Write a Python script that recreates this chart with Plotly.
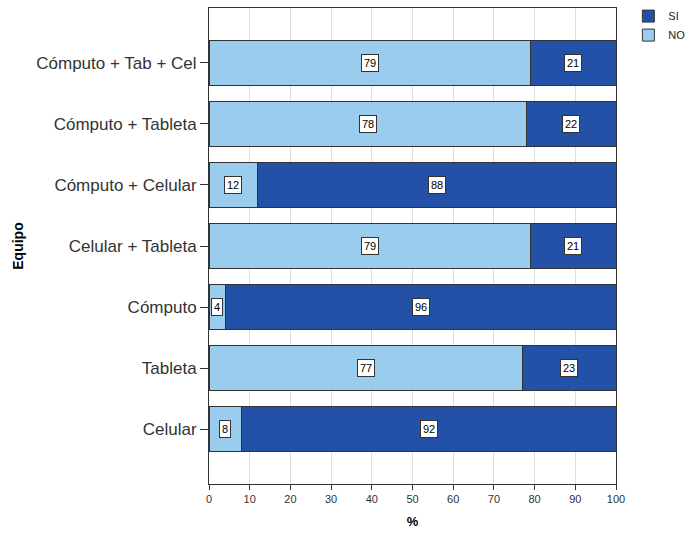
import plotly.graph_objects as go

categories = ["Cómputo + Tab + Cel", "Cómputo + Tableta", "Cómputo + Celular",
              "Celular + Tableta", "Cómputo", "Tableta", "Celular"]
no_vals = [79, 78, 12, 79, 4, 77, 8]
si_vals = [21, 22, 88, 21, 96, 23, 92]
x_ticks = [0, 10, 20, 30, 40, 50, 60, 70, 80, 90, 100]

NO_COLOR = "#9ACDED"
SI_COLOR = "#2451A8"
FONT = "Liberation Sans, Arial, sans-serif"

fig = go.Figure()
fig.add_trace(go.Bar(y=categories, x=no_vals, orientation="h", name="NO",
                     marker=dict(color=NO_COLOR, line=dict(color="#333333", width=1))))
fig.add_trace(go.Bar(y=categories, x=si_vals, orientation="h", name="SI",
                     marker=dict(color=SI_COLOR, line=dict(color="#333333", width=1))))

for cat, n, s in zip(categories, no_vals, si_vals):
    for xc, v in ((n / 2, n), (n + s / 2, s)):
        fig.add_annotation(x=xc, y=cat, text=str(v), showarrow=False,
                           font=dict(size=11, color="black", family=FONT),
                           bgcolor="white", bordercolor="#333333", borderwidth=1,
                           borderpad=2)

fig.update_layout(
    barmode="stack", bargap=0.25,
    width=689, height=534,
    margin=dict(l=209, r=73, t=8, b=50, autoexpand=False),
    plot_bgcolor="white", paper_bgcolor="white",
    font=dict(family=FONT, color="#222222"),
    legend=dict(xref="container", yref="container", x=0.912, y=0.997,
                xanchor="left", yanchor="top", traceorder="reversed",
                font=dict(size=11), itemwidth=30, tracegroupgap=0,
                bgcolor="rgba(0,0,0,0)"),
    xaxis=dict(range=[0, 100], tickvals=x_ticks, showgrid=True, gridcolor="#DDDDDD",
               ticks="outside", ticklen=5, tickcolor="#333333",
               tickfont=dict(size=11, color="#333333"), showline=True,
               linecolor="#333333", mirror=True, zeroline=False,
               title=dict(text="<b>%</b>", font=dict(size=13, color="black"), standoff=12)),
    yaxis=dict(type="category", categoryorder="array", categoryarray=categories,
               range=[6.9, -0.9], ticks="outside", ticklen=8, tickcolor="#333333",
               tickfont=dict(size=17, color="#333333"), showline=True,
               linecolor="#333333", mirror=True, showgrid=False,
               title=dict(text="<b>Equipo</b>", font=dict(size=14, color="black"),
                          standoff=9)),
)
fig.write_html("out.html", config={"displayModeBar": False},
               post_script="document.body.style.margin='0px';document.body.style.padding='0px';")
